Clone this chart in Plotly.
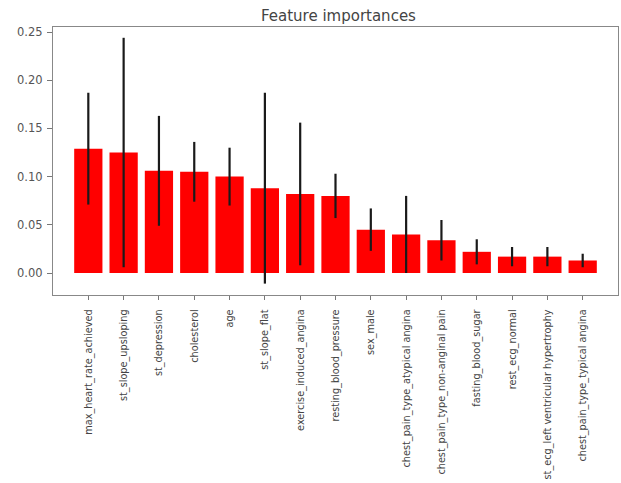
import plotly.graph_objects as go

features = [
    "max_heart_rate_achieved", "st_slope_upsloping", "st_depression", "cholesterol",
    "age", "st_slope_flat", "exercise_induced_angina", "resting_blood_pressure",
    "sex_male", "chest_pain_type_atypical angina", "chest_pain_type_non-anginal pain",
    "fasting_blood_sugar", "rest_ecg_normal", "st_ecg_left ventricular hypertrophy",
    "chest_pain_type_typical angina",
]
importances = [0.129, 0.125, 0.106, 0.105, 0.100, 0.088, 0.082, 0.080,
               0.045, 0.040, 0.034, 0.022, 0.017, 0.017, 0.013]
std_devs = [0.058, 0.119, 0.057, 0.031, 0.030, 0.099, 0.074, 0.023,
            0.022, 0.040, 0.021, 0.013, 0.010, 0.010, 0.007]
y_ticks = [0.00, 0.05, 0.10, 0.15, 0.20, 0.25]

W, H = 621, 483
left, right, top, bottom = 53, 3, 27, 188

fig = go.Figure()
fig.add_trace(go.Bar(
    x=list(range(len(features))),
    y=importances,
    width=0.8,
    marker=dict(color="#ff0000", line=dict(width=0)),
    error_y=dict(type="data", array=std_devs, visible=True,
                 color="#1a1a1a", thickness=2.2, width=0),
))

fig.update_layout(
    width=W, height=H,
    margin=dict(l=left, r=right, t=top, b=bottom, pad=0),
    paper_bgcolor="white", plot_bgcolor="white",
    showlegend=False,
    title=dict(text="Feature importances", x=0.545, xanchor="center",
               y=1 - 16 / H, yanchor="middle",
               font=dict(family="DejaVu Sans", size=15, color="#444444")),
    xaxis=dict(
        range=[-1, 15], tickmode="array",
        tickvals=list(range(len(features))), ticktext=features,
        tickangle=-90, ticks="outside", ticklen=4, tickcolor="#777777",
        ticklabelstandoff=5,
        tickfont=dict(family="Liberation Sans Narrow, DejaVu Sans Condensed", size=10.8,
                      color="#444444"),
        showgrid=False, zeroline=False, automargin=False,
        showline=True, linecolor="#888888", linewidth=1.2, mirror=True,
    ),
    yaxis=dict(
        range=[-0.0228, 0.2552], tickmode="array", tickvals=y_ticks,
        ticktext=[f"{v:.2f}" for v in y_ticks],
        ticks="outside", ticklen=5, tickcolor="#777777", ticklabelstandoff=2,
        tickfont=dict(family="DejaVu Sans", size=11.5, color="#555555"),
        showgrid=False, zeroline=False, automargin=False,
        showline=True, linecolor="#888888", linewidth=1.2, mirror=True,
    ),
)

fig.write_html("out.html")
